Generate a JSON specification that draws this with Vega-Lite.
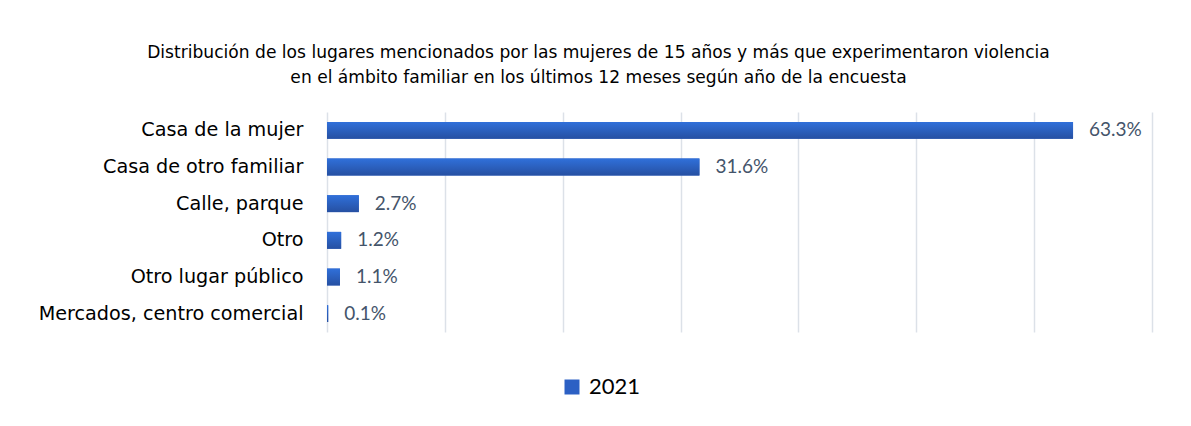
{
  "$schema": "https://vega.github.io/schema/vega-lite/v6.json",
  "width": 825,
  "height": 220,
  "autosize": {"type": "none"},
  "padding": {"left": 327, "top": 112, "right": 39, "bottom": 94},
  "background": "#ffffff",
  "config": {
    "font": "DejaVu Sans",
    "view": {"stroke": null}
  },
  "title": {
    "text": ["Distribución de los lugares mencionados por las mujeres de 15 años y más que experimentaron violencia", "en el ámbito familiar en los últimos 12 meses según año de la encuesta"],
    "font": "DejaVu Sans",
    "fontSize": 17.1,
    "fontWeight": "normal",
    "color": "#000000",
    "anchor": "middle",
    "frame": "group",
    "dx": -141,
    "lineHeight": 25,
    "offset": 26
  },
  "data": {
    "values": [
      {"lugar": "Casa de la mujer", "valor": 0.633, "anio": "2021"},
      {"lugar": "Casa de otro familiar", "valor": 0.316, "anio": "2021"},
      {"lugar": "Calle, parque", "valor": 0.027, "anio": "2021"},
      {"lugar": "Otro", "valor": 0.012, "anio": "2021"},
      {"lugar": "Otro lugar público", "valor": 0.011, "anio": "2021"},
      {"lugar": "Mercados, centro comercial", "valor": 0.001, "anio": "2021"}
    ]
  },
  "encoding": {
    "y": {
      "field": "lugar",
      "type": "nominal",
      "sort": null,
      "scale": {"paddingInner": 0.54, "paddingOuter": 0.27},
      "axis": {
        "title": null,
        "domain": false,
        "ticks": false,
        "labelFont": "DejaVu Sans",
        "labelFontSize": 19.2,
        "labelColor": "#000000",
        "labelPadding": 24,
        "labelLimit": 400
      }
    },
    "x": {
      "field": "valor",
      "type": "quantitative",
      "scale": {"domain": [0, 0.7], "nice": false},
      "axis": {
        "title": null,
        "values": [0, 0.1, 0.2, 0.3, 0.4, 0.5, 0.6, 0.7],
        "grid": true,
        "gridColor": "#DCE1E8",
        "gridWidth": 1.5,
        "labels": false,
        "ticks": false,
        "domain": false
      }
    }
  },
  "layer": [
    {
      "mark": {"type": "bar"},
      "encoding": {
        "color": {
          "field": "anio",
          "type": "nominal",
          "scale": {"range": ["#2C60C4"]},
          "legend": {
            "title": null,
            "orient": "none",
            "legendX": 234,
            "legendY": 264,
            "padding": 0,
            "symbolType": "square",
            "symbolSize": 225,
            "symbolStrokeWidth": 0,
            "labelFont": "Lato",
            "labelFontSize": 22,
            "labelColor": "#000000",
            "labelOffset": 6
          }
        }
      }
    },
    {
      "mark": {
        "type": "bar",
        "fill": {
          "gradient": "linear",
          "x1": 0, "y1": 0, "x2": 0, "y2": 1,
          "stops": [
            {"offset": 0, "color": "#3070DA"},
            {"offset": 1, "color": "#2650A2"}
          ]
        }
      }
    },
    {
      "mark": {
        "type": "text",
        "align": "left",
        "baseline": "middle",
        "dx": 16,
        "font": "Lato",
        "fontSize": 19,
        "color": "#44546A"
      },
      "encoding": {
        "text": {"field": "valor", "type": "quantitative", "format": ".1%"}
      }
    }
  ]
}
